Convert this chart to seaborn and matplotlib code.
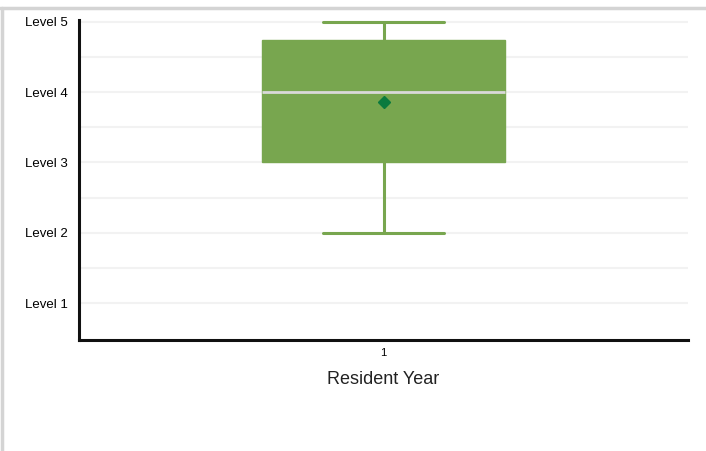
import pandas as pd
import numpy as np
import matplotlib
matplotlib.use("Agg")
import matplotlib.pyplot as plt
import seaborn as sns
from matplotlib.lines import Line2D

# individual scores for the single resident year (2=Level 2 ... 5=Level 5)
resident_year = ["1"] * 14
level_scores = [2, 3, 3, 3, 3, 4, 4, 4, 4, 4, 5, 5, 5, 5]
level_ticks = [1, 2, 3, 4, 5]
level_labels = ["Level 1", "Level 2", "Level 3", "Level 4", "Level 5"]

df = pd.DataFrame({"Resident Year": resident_year, "Level": level_scores})

sns.set_style("white")
plt.rcParams["font.family"] = ["Liberation Sans", "DejaVu Sans"]

fig = plt.figure(figsize=(7.06, 4.51), dpi=100)
ax = fig.add_axes([0.112, 0.246, 0.8625, 0.71])

green = "#78a64f"
sns.boxplot(data=df, x="Resident Year", y="Level", ax=ax, width=0.4,
            color=green, showmeans=True, whis=1.5, showfliers=False,
            boxprops=dict(facecolor=green, edgecolor=green, linewidth=1),
            whiskerprops=dict(color=green, linewidth=2.2),
            capprops=dict(color=green, linewidth=2.2),
            medianprops=dict(color="#d9d9d9", linewidth=2),
            meanprops=dict(marker="D", markerfacecolor="#0b7a3e",
                           markeredgecolor="#0b7a3e", markersize=6),
            capwidths=0.2)

ax.set_ylim(0.473, 5.03)
ax.set_xlim(-0.5, 0.5)
ax.set_yticks(level_ticks)
ax.set_yticklabels(level_labels)
ax.set_yticks([1.5, 2.5, 3.5, 4.5], minor=True)
ax.grid(axis="y", which="both", color="#f2f2f2", linewidth=1.5)
ax.set_axisbelow(True)

ax.tick_params(axis="y", which="both", length=0, pad=8, labelsize=9.5, colors="black")
ax.tick_params(axis="x", length=4, width=1, pad=2, labelsize=8, colors="black")
ax.set_ylabel("")
ax.set_xlabel("Resident Year", fontsize=13, labelpad=9, color="#222222")

for s in ["top", "right"]:
    ax.spines[s].set_visible(False)
for s in ["left", "bottom"]:
    ax.spines[s].set_color("#111111")
    ax.spines[s].set_linewidth(2.2)

# outer frame lines of the original screenshot
fig.add_artist(Line2D([0, 1], [0.982, 0.982], transform=fig.transFigure,
                      color="#d4d4d4", linewidth=2.5))
fig.add_artist(Line2D([0.003, 0.003], [0, 0.982], transform=fig.transFigure,
                      color="#d4d4d4", linewidth=2.5))

fig.savefig("out.png", dpi=100)
